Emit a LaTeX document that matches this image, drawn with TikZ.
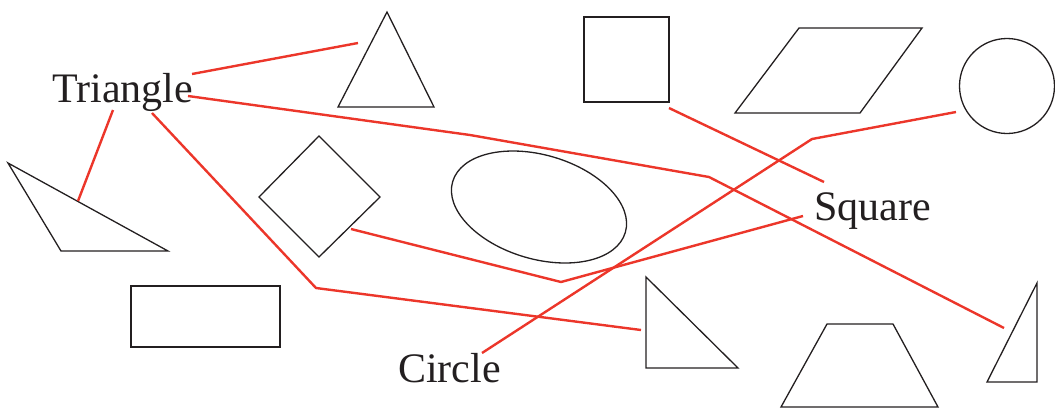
\documentclass[tikz,border=0pt]{standalone}
\usepackage{fontspec}
\setmainfont{Liberation Serif}
\definecolor{linkred}{RGB}{236,54,42}
\definecolor{ink}{RGB}{35,31,32}
\begin{document}
\begin{tikzpicture}[x=1pt,y=-1pt,
  outline/.style={draw=ink, line width=1.3pt},
  link/.style={draw=linkred, line width=2.4pt},
  lbl/.style={anchor=base west, inner sep=0pt, font=\fontsize{42}{50}\selectfont, text=ink}]
\useasboundingbox (0,0) rectangle (1055,408);
% shapes
\draw[outline] (387,12) -- (338,107) -- (434,107) -- cycle;
\draw[outline] (584,17) rectangle (669,102);
\draw[outline] (799,28) -- (922,28) -- (860,113) -- (735,113) -- cycle;
\draw[outline] (1007,86) circle[radius=47.5pt];
\draw[outline] (8,163) -- (168,251) -- (61,251) -- cycle;
\draw[outline] (319,136) -- (380,197) -- (319,257) -- (259,197) -- cycle;
\draw[outline, rotate around={-16.4:(539,207)}] (539,207) ellipse[x radius=90pt, y radius=52pt];
\draw[outline] (131,286) rectangle (280,347);
\draw[outline] (646,277) -- (646,368) -- (738,368) -- cycle;
\draw[outline] (827,324) -- (893,324) -- (938,407) -- (781,407) -- cycle;
\draw[outline] (1037,283) -- (1037,382) -- (987,382) -- cycle;
% labels
\node[lbl] (tri) at (52,102) {Triangle};
\node[lbl] (sq) at (814,220) {Square};
\node[lbl] (cir) at (398,382) {Circle};
% connector ends
\coordinate (ta1) at (192,74);   \coordinate (tb1) at (358,43);
\coordinate (ta2) at (188,96);   \coordinate (tm2a) at (470,135);
\coordinate (tm2b) at (709,177); \coordinate (tb2) at (1004,328);
\coordinate (ta3) at (113,110);  \coordinate (tb3) at (78,201);
\coordinate (ta4) at (152,113);  \coordinate (tm4) at (316,288);
\coordinate (tb4) at (641,330);
\coordinate (sa1) at (824,182);  \coordinate (sb1) at (669,108);
\coordinate (sa2) at (803,216);  \coordinate (sm2) at (561,282);
\coordinate (sb2) at (351,229);
\coordinate (ca1) at (482,353);  \coordinate (cm1) at (812,139);
\coordinate (cb1) at (956,112);
% connectors
\draw[link] (ta1) -- (tb1);
\draw[link] (ta2) -- (tm2a) -- (tm2b) -- (tb2);
\draw[link] (ta3) -- (tb3);
\draw[link] (ta4) -- (tm4) -- (tb4);
\draw[link] (sa1) -- (sb1);
\draw[link] (sa2) -- (sm2) -- (sb2);
\draw[link] (ca1) -- (cm1) -- (cb1);
\end{tikzpicture}
\end{document}
